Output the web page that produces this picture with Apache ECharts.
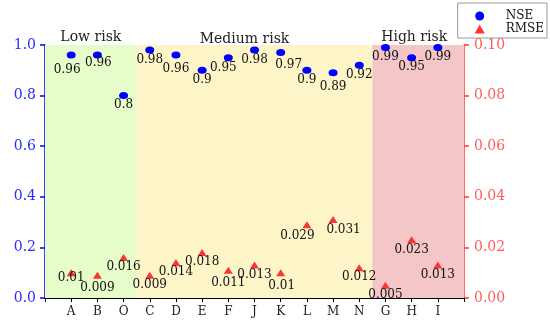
<!DOCTYPE html>
<html>
<head>
<meta charset="utf-8">
<script src="https://cdn.jsdelivr.net/npm/echarts@6/dist/echarts.min.js"></script>
<style>html,body{margin:0;padding:0;background:#fff}#c{width:550px;height:327px}</style>
</head>
<body>
<div id="c"></div>
<script>
// ---- data ----
const categories = ['A','B','O','C','D','E','F','J','K','L','M','N','G','H','I'];
const nseValues  = [0.96,0.96,0.8,0.98,0.96,0.9,0.95,0.98,0.97,0.9,0.89,0.92,0.99,0.95,0.99];
const rmseValues = [0.01,0.009,0.016,0.009,0.014,0.018,0.011,0.013,0.01,0.029,0.031,0.012,0.005,0.023,0.013];
const leftTicks  = [0, 0.2, 0.4, 0.6, 0.8, 1.0];
const rightTicks = [0, 0.02, 0.04, 0.06, 0.08, 0.10];
const zoneNames  = ['Low risk','Medium risk','High risk'];
const zoneBounds = [[0, 3.5], [3.5, 12.5], [12.5, 16]];

// ---- style only ----
const zoneColors = ['#e6fcc9','#fdf5c8','#f5c6c7'];
const zoneLabelShift = [[0,2],[-10,4],[-4,2]];
const nseLabelShift = {0:[-4,15],1:[1,8],4:[0,14],6:[-5,10.5],8:[8,12],10:[0,14.5]};
const rmseLabelShift = {0:[0,5],1:[0,13],6:[0,12.7],8:[1,12.7],9:[-9.5,11.7],10:[10.5,10],13:[0,10]};
const serif = 'DejaVu Serif';

const chart = echarts.init(document.getElementById('c'));

function pts(vals, shifts, dflt) {
  return vals.map((v, i) => ({
    value: [i + 1, v],
    label: { offset: shifts[i] || dflt }
  }));
}

chart.setOption({
  animation: false,
  grid: { left: 45, right: 86, top: 45, bottom: 29 },
  legend: {
    orient: 'vertical', right: 3, top: 3,
    borderColor: '#999', borderWidth: 1, borderRadius: 0,
    padding: [7, 3, 3, 17],
    itemWidth: 10, itemHeight: 9, itemGap: 1,
    textStyle: { fontFamily: serif, fontSize: 12, color: '#111', padding: [0, 0, 0, 16] },
    data: [{ name: 'NSE', icon: 'circle' }, { name: 'RMSE', icon: 'triangle' }]
  },
  xAxis: {
    type: 'value', min: 0, max: categories.length + 1, interval: 1,
    axisLine: { lineStyle: { color: '#000' } },
    axisTick: { length: 4, lineStyle: { color: '#000' } },
    axisLabel: {
      margin: 8, fontFamily: serif, fontSize: 12, color: '#222',
      formatter: v => categories[v - 1] || ''
    },
    splitLine: { show: false }
  },
  yAxis: [
    {
      type: 'value', min: leftTicks[0], max: leftTicks[leftTicks.length - 1], interval: 0.2,
      axisLine: { show: true, lineStyle: { color: '#0000ff', width: 1.5 } },
      axisTick: { show: true, length: 5, lineStyle: { color: '#0000ff', width: 1.5 } },
      axisLabel: { margin: 9, fontFamily: serif, fontSize: 14, color: '#2a2aff', formatter: v => v.toFixed(1) },
      splitLine: { show: false }
    },
    {
      type: 'value', min: rightTicks[0], max: rightTicks[rightTicks.length - 1], interval: 0.02,
      position: 'right',
      axisLine: { show: true, lineStyle: { color: '#ff3838', width: 1.5 } },
      axisTick: { show: true, length: 5, lineStyle: { color: '#ff3838', width: 1.5 } },
      axisLabel: { margin: 10, fontFamily: serif, fontSize: 14, color: '#ff5c5c', formatter: v => v.toFixed(2) },
      splitLine: { show: false }
    }
  ],
  series: [
    {
      name: 'NSE', type: 'scatter', yAxisIndex: 0,
      symbol: 'circle', symbolSize: [9, 7],
      itemStyle: { color: '#0000ff', opacity: 1 },
      label: { show: true, position: 'inside', fontFamily: serif, fontSize: 12, color: '#111',
               formatter: p => String(p.value[1]) },
      data: pts(nseValues, nseLabelShift, [0, 9.5]),
      markArea: {
        silent: true,
        data: zoneNames.map((n, i) => [
          { name: n, xAxis: zoneBounds[i][0], itemStyle: { color: zoneColors[i], opacity: 1 },
            label: { offset: zoneLabelShift[i] } },
          { xAxis: zoneBounds[i][1] }
        ]),
        label: { show: true, position: 'top', distance: 3, fontFamily: serif, fontSize: 14, color: '#222' }
      },
      z: 3
    },
    {
      name: 'RMSE', type: 'scatter', yAxisIndex: 1,
      symbol: 'triangle', symbolSize: [9, 7],
      itemStyle: { color: '#ff3333', opacity: 1 },
      label: { show: true, position: 'inside', fontFamily: serif, fontSize: 12, color: '#111',
               formatter: p => String(p.value[1]) },
      data: pts(rmseValues, rmseLabelShift, [0, 9.5]),
      z: 3
    }
  ]
});
</script>
</body>
</html>
